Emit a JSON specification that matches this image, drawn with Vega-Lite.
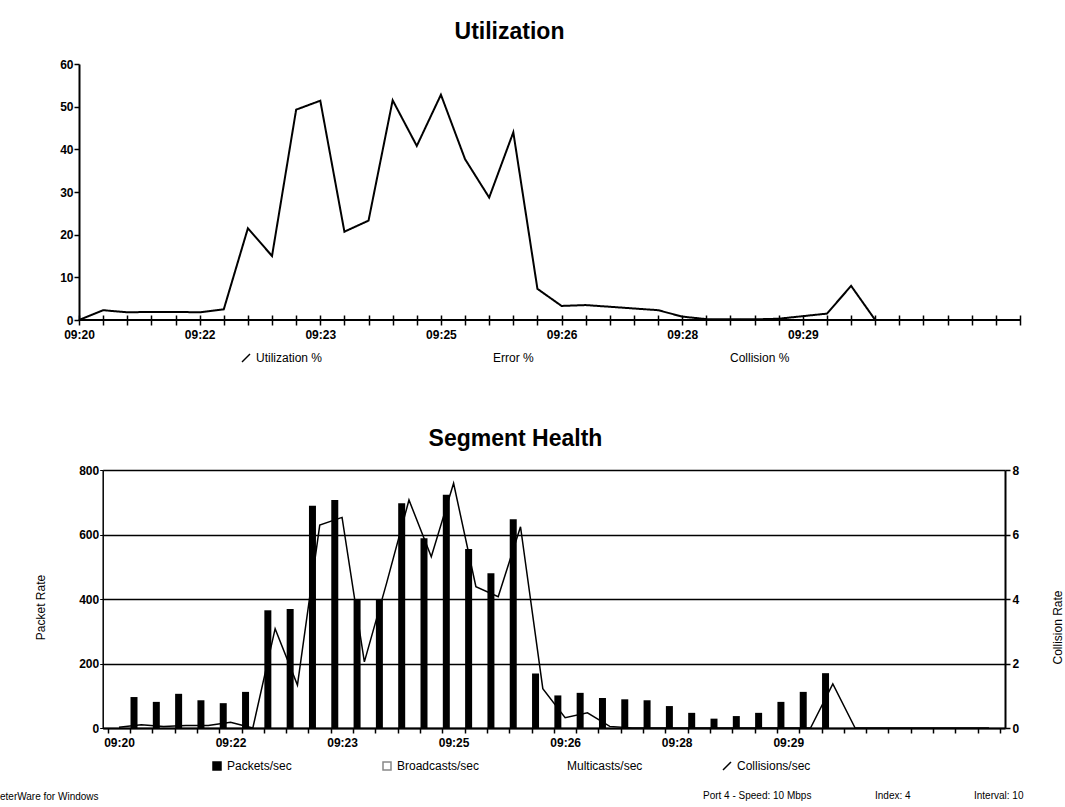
{
  "$schema": "https://vega.github.io/schema/vega-lite/v6.json",
  "width": 1065,
  "height": 807,
  "autosize": {"type": "none"},
  "padding": 0,
  "background": "white",
  "config": {
    "view": {"stroke": null},
    "font": "Liberation Sans",
    "axis": {
      "labelColor": "black",
      "titleColor": "black",
      "domainColor": "black",
      "tickColor": "black",
      "labelFont": "Liberation Sans",
      "labelFontSize": 12,
      "labelFontWeight": "bold",
      "titleFont": "Liberation Sans",
      "labelOverlap": false,
      "labelFlush": false,
      "grid": false
    },
    "legend": {
      "labelColor": "black",
      "labelFont": "Liberation Sans",
      "labelFontSize": 12,
      "padding": 0
    }
  },
  "title": {
    "text": "eterWare for Windows",
    "orient": "bottom",
    "anchor": "start",
    "frame": "group",
    "offset": -15,
    "fontSize": 10,
    "fontWeight": "normal",
    "color": "black",
    "font": "Liberation Sans"
  },
  "datasets": {
    "util": [
      {"i": 0, "util": 0}, {"i": 1, "util": 2.3}, {"i": 2, "util": 1.8}, {"i": 3, "util": 1.9},
      {"i": 4, "util": 1.9}, {"i": 5, "util": 1.8}, {"i": 6, "util": 2.5}, {"i": 7, "util": 21.5},
      {"i": 8, "util": 15}, {"i": 9, "util": 49.3}, {"i": 10, "util": 51.4}, {"i": 11, "util": 20.7},
      {"i": 12, "util": 23.3}, {"i": 13, "util": 51.5}, {"i": 14, "util": 40.8}, {"i": 15, "util": 52.8},
      {"i": 16, "util": 37.7}, {"i": 17, "util": 28.7}, {"i": 18, "util": 44}, {"i": 19, "util": 7.3},
      {"i": 20, "util": 3.3}, {"i": 21, "util": 3.5}, {"i": 22, "util": 3.1}, {"i": 23, "util": 2.7},
      {"i": 24, "util": 2.3}, {"i": 25, "util": 0.8}, {"i": 26, "util": 0.2}, {"i": 27, "util": 0.15},
      {"i": 28, "util": 0.15}, {"i": 29, "util": 0.3}, {"i": 30, "util": 0.9}, {"i": 31, "util": 1.5},
      {"i": 32, "util": 8.0}, {"i": 33, "util": 0}
    ],
    "seg": [
      {"i": 0, "packets": null, "coll": 0.02},
      {"i": 1, "packets": 96, "coll": 0.1},
      {"i": 2, "packets": 81, "coll": 0.05},
      {"i": 3, "packets": 106, "coll": 0.08},
      {"i": 4, "packets": 86, "coll": 0.08},
      {"i": 5, "packets": 77, "coll": 0.18},
      {"i": 6, "packets": 112, "coll": 0},
      {"i": 7, "packets": 365, "coll": 3.08},
      {"i": 8, "packets": 369, "coll": 1.33},
      {"i": 9, "packets": 689, "coll": 6.29},
      {"i": 10, "packets": 707, "coll": 6.53},
      {"i": 11, "packets": 400, "coll": 2.05},
      {"i": 12, "packets": 400, "coll": 4.5},
      {"i": 13, "packets": 697, "coll": 7.07},
      {"i": 14, "packets": 588, "coll": 5.31},
      {"i": 15, "packets": 723, "coll": 7.59},
      {"i": 16, "packets": 555, "coll": 4.38},
      {"i": 17, "packets": 480, "coll": 4.07},
      {"i": 18, "packets": 647, "coll": 6.24},
      {"i": 19, "packets": 169, "coll": 1.22},
      {"i": 20, "packets": 101, "coll": 0.32},
      {"i": 21, "packets": 109, "coll": 0.47},
      {"i": 22, "packets": 93, "coll": 0.05},
      {"i": 23, "packets": 89, "coll": 0},
      {"i": 24, "packets": 86, "coll": 0},
      {"i": 25, "packets": 68, "coll": 0},
      {"i": 26, "packets": 47, "coll": 0},
      {"i": 27, "packets": 29, "coll": 0},
      {"i": 28, "packets": 37, "coll": 0},
      {"i": 29, "packets": 47, "coll": 0},
      {"i": 30, "packets": 81, "coll": 0},
      {"i": 31, "packets": 112, "coll": 0},
      {"i": 32, "packets": 170, "coll": 1.37},
      {"i": 33, "packets": null, "coll": 0},
      {"i": 34, "packets": null, "coll": 0},
      {"i": 35, "packets": null, "coll": 0},
      {"i": 36, "packets": null, "coll": 0},
      {"i": 37, "packets": null, "coll": 0},
      {"i": 38, "packets": null, "coll": 0},
      {"i": 39, "packets": null, "coll": 0}
    ]
  },
  "layer": [
    {
      "layer": [
        {
          "data": {"name": "util"},
          "mark": {"type": "line", "strokeWidth": 2, "strokeJoin": "miter"},
          "encoding": {
            "x": {
              "field": "i",
              "type": "quantitative",
              "scale": {"domain": [0, 39], "range": [79, 1020], "nice": false, "zero": false},
              "axis": {
                "orient": "bottom",
                "offset": -492,
                "domain": false,
                "values": [0,1,2,3,4,5,6,7,8,9,10,11,12,13,14,15,16,17,18,19,20,21,22,23,24,25,26,27,28,29,30,31,32,33,34,35,36,37,38,39],
                "labelExpr": "datum.value === 0 ? '09:20' : datum.value === 5 ? '09:22' : datum.value === 10 ? '09:23' : datum.value === 15 ? '09:25' : datum.value === 20 ? '09:26' : datum.value === 25 ? '09:28' : datum.value === 30 ? '09:29' : ''",
                "labelOverlap": false,
                "tickSize": 10,
                "tickWidth": 1.5,
                "labelPadding": 4,
                "title": "Utilization",
                "titleX": 509,
                "titleY": -277,
                "titleAlign": "center",
                "titleBaseline": "alphabetic",
                "titleFontSize": 23,
                "titleFontWeight": "bold"
              }
            },
            "y": {
              "field": "util",
              "type": "quantitative",
              "scale": {"domain": [0, 60], "range": [320, 64], "nice": false},
              "axis": {
                "orient": "left",
                "offset": -79,
                "values": [0, 10, 20, 30, 40, 50, 60],
                "tickSize": 5,
                "tickWidth": 1.5,
                "domainWidth": 2,
                "labelPadding": 1,
                "title": null
              }
            },
            "color": {
              "datum": "Utilization %",
              "scale": {"domain": ["Utilization %", "Error %", "Collision %"], "range": ["black", "transparent", "transparent"]},
              "legend": {
                "title": null,
                "orient": "none",
                "legendX": 240,
                "legendY": 352,
                "direction": "horizontal",
                "columns": 3,
                "gridAlign": "all",
                "columnPadding": 153,
                "symbolType": "M-1,1L1,-1",
                "symbolSize": 64,
                "symbolStrokeWidth": 1.5,
                "labelFontSize": 12,
                "labelOffset": 4
              }
            },
            "strokeDash": {
              "datum": "Port 4 - Speed: 10 Mbps",
              "scale": {"domain": ["Port 4 - Speed: 10 Mbps", "Index: 4", "Interval: 10"], "range": [[1, 0], [1, 0], [1, 0]]},
              "legend": {
                "title": null,
                "orient": "none",
                "legendX": 693,
                "legendY": 791,
                "direction": "horizontal",
                "columns": 3,
                "gridAlign": "each",
                "columnPadding": 53,
                "symbolOpacity": 0,
                "symbolSize": 1,
                "symbolOffset": 0,
                "labelOffset": 0,
                "labelFontSize": 10
              }
            }
          }
        },
        {
          "data": {"values": [{}]},
          "mark": {"type": "rule", "strokeWidth": 2, "color": "black"},
          "encoding": {
            "x": {
              "datum": 0,
              "type": "quantitative",
              "axis": {
                "orient": "bottom",
                "offset": -492,
                "domain": false,
                "values": [0,1,2,3,4,5,6,7,8,9,10,11,12,13,14,15,16,17,18,19,20,21,22,23,24,25,26,27,28,29,30,31,32,33,34,35,36,37,38,39],
                "labelExpr": "datum.value === 0 ? '09:20' : datum.value === 5 ? '09:22' : datum.value === 10 ? '09:23' : datum.value === 15 ? '09:25' : datum.value === 20 ? '09:26' : datum.value === 25 ? '09:28' : datum.value === 30 ? '09:29' : ''",
                "labelOverlap": false,
                "tickSize": 10,
                "tickWidth": 1.5,
                "labelPadding": 4,
                "title": "Utilization",
                "titleX": 509,
                "titleY": -277,
                "titleAlign": "center",
                "titleBaseline": "alphabetic",
                "titleFontSize": 23,
                "titleFontWeight": "bold"
              }
            },
            "x2": {"datum": 39},
            "y": {
              "datum": 0,
              "type": "quantitative",
              "axis": {
                "orient": "left",
                "offset": -79,
                "values": [0, 10, 20, 30, 40, 50, 60],
                "tickSize": 5,
                "tickWidth": 1.5,
                "domainWidth": 2,
                "labelPadding": 1,
                "title": null
              }
            }
          }
        }
      ]
    },
    {
      "data": {"name": "seg"},
      "layer": [
        {
          "mark": {"type": "bar", "width": 7, "xOffset": 4},
          "encoding": {
            "x": {
              "field": "i",
              "type": "quantitative",
              "scale": {"domain": [0, 40], "range": [102.7, 1005], "nice": false, "zero": false},
              "axis": {
                "orient": "bottom",
                "offset": -79,
                "values": [0,1,2,3,4,5,6,7,8,9,10,11,12,13,14,15,16,17,18,19,20,21,22,23,24,25,26,27,28,29,30,31,32,33,34,35,36,37,38,39,40],
                "labelExpr": "datum.value === 0 ? '09:20' : datum.value === 5 ? '09:22' : datum.value === 10 ? '09:23' : datum.value === 15 ? '09:25' : datum.value === 20 ? '09:26' : datum.value === 25 ? '09:28' : datum.value === 30 ? '09:29' : ''",
                "labelOverlap": false,
                "labelOffset": 11.3,
                "tickSize": 5,
                "tickWidth": 1.5,
                "domainWidth": 2,
                "labelPadding": 4,
                "title": "Segment Health",
                "titleX": 515,
                "titleY": -283,
                "titleAlign": "center",
                "titleBaseline": "alphabetic",
                "titleFontSize": 23,
                "titleFontWeight": "bold"
              }
            },
            "y": {
              "field": "packets",
              "type": "quantitative",
              "scale": {"domain": [0, 800], "range": [728, 470], "nice": false},
              "axis": {
                "orient": "left",
                "offset": -102.7,
                "values": [0, 200, 400, 600, 800],
                "grid": true,
                "gridColor": "black",
                "gridWidth": 1.5,
                "gridOpacity": 1,
                "tickSize": 3,
                "domainWidth": 1.5,
                "labelPadding": 1,
                "title": "Packet Rate",
                "titleFontSize": 12,
                "titleFontWeight": "normal",
                "titleX": -62,
                "titleY": 607,
                "titleAngle": 270,
                "titleBaseline": "middle",
                "titleAlign": "center"
              }
            },
            "color": {
              "datum": "Packets/sec",
              "scale": {"domain": ["Packets/sec", "Broadcasts/sec", "Multicasts/sec", "Collisions/sec"], "range": ["black", "#888888", "transparent", "black"]},
              "legend": {
                "title": null,
                "orient": "none",
                "legendX": 211,
                "legendY": 760,
                "direction": "horizontal",
                "columns": 4,
                "gridAlign": "all",
                "columnPadding": 70,
                "symbolSize": 64,
                "labelFontSize": 12,
                "labelOffset": 4,
                "encode": {
                  "symbols": {
                    "update": {
                      "shape": {"signal": "datum.value === 'Collisions/sec' ? 'M-1,1L1,-1' : 'square'"},
                      "fill": {"signal": "datum.value === 'Packets/sec' ? 'black' : 'transparent'"},
                      "fillOpacity": {"signal": "datum.value === 'Packets/sec' ? 1 : 0"},
                      "stroke": {"signal": "(datum.value === 'Packets/sec' || datum.value === 'Collisions/sec') ? 'black' : (datum.value === 'Broadcasts/sec' ? '#888888' : 'transparent')"},
                      "strokeWidth": {"value": 1.5},
                      "opacity": {"value": 1}
                    }
                  }
                }
              }
            }
          }
        },
        {
          "mark": {"type": "line", "strokeWidth": 1.5, "xOffset": 11.28, "strokeJoin": "miter"},
          "encoding": {
            "x": {
              "field": "i",
              "type": "quantitative",
              "axis": {
                "orient": "bottom",
                "offset": -79,
                "values": [0,1,2,3,4,5,6,7,8,9,10,11,12,13,14,15,16,17,18,19,20,21,22,23,24,25,26,27,28,29,30,31,32,33,34,35,36,37,38,39,40],
                "labelExpr": "datum.value === 0 ? '09:20' : datum.value === 5 ? '09:22' : datum.value === 10 ? '09:23' : datum.value === 15 ? '09:25' : datum.value === 20 ? '09:26' : datum.value === 25 ? '09:28' : datum.value === 30 ? '09:29' : ''",
                "labelOverlap": false,
                "labelOffset": 11.3,
                "tickSize": 5,
                "tickWidth": 1.5,
                "domainWidth": 2,
                "labelPadding": 4,
                "title": "Segment Health",
                "titleX": 515,
                "titleY": -283,
                "titleAlign": "center",
                "titleBaseline": "alphabetic",
                "titleFontSize": 23,
                "titleFontWeight": "bold"
              }
            },
            "y": {
              "field": "coll",
              "type": "quantitative",
              "scale": {"domain": [0, 8], "range": [728, 470], "nice": false},
              "axis": {
                "orient": "right",
                "offset": -60,
                "values": [0, 2, 4, 6, 8],
                "tickSize": 5,
                "tickWidth": 1.5,
                "domainWidth": 2,
                "labelPadding": 2,
                "title": "Collision Rate",
                "titleFontSize": 12,
                "titleFontWeight": "normal",
                "titleAngle": 270,
                "titleX": 52,
                "titleY": 627,
                "titleBaseline": "middle",
                "titleAlign": "center"
              }
            },
            "color": {"datum": "Collisions/sec"}
          }
        }
      ],
      "resolve": {"scale": {"y": "independent"}}
    }
  ],
  "resolve": {"scale": {"x": "independent", "y": "independent", "color": "independent"}}
}
